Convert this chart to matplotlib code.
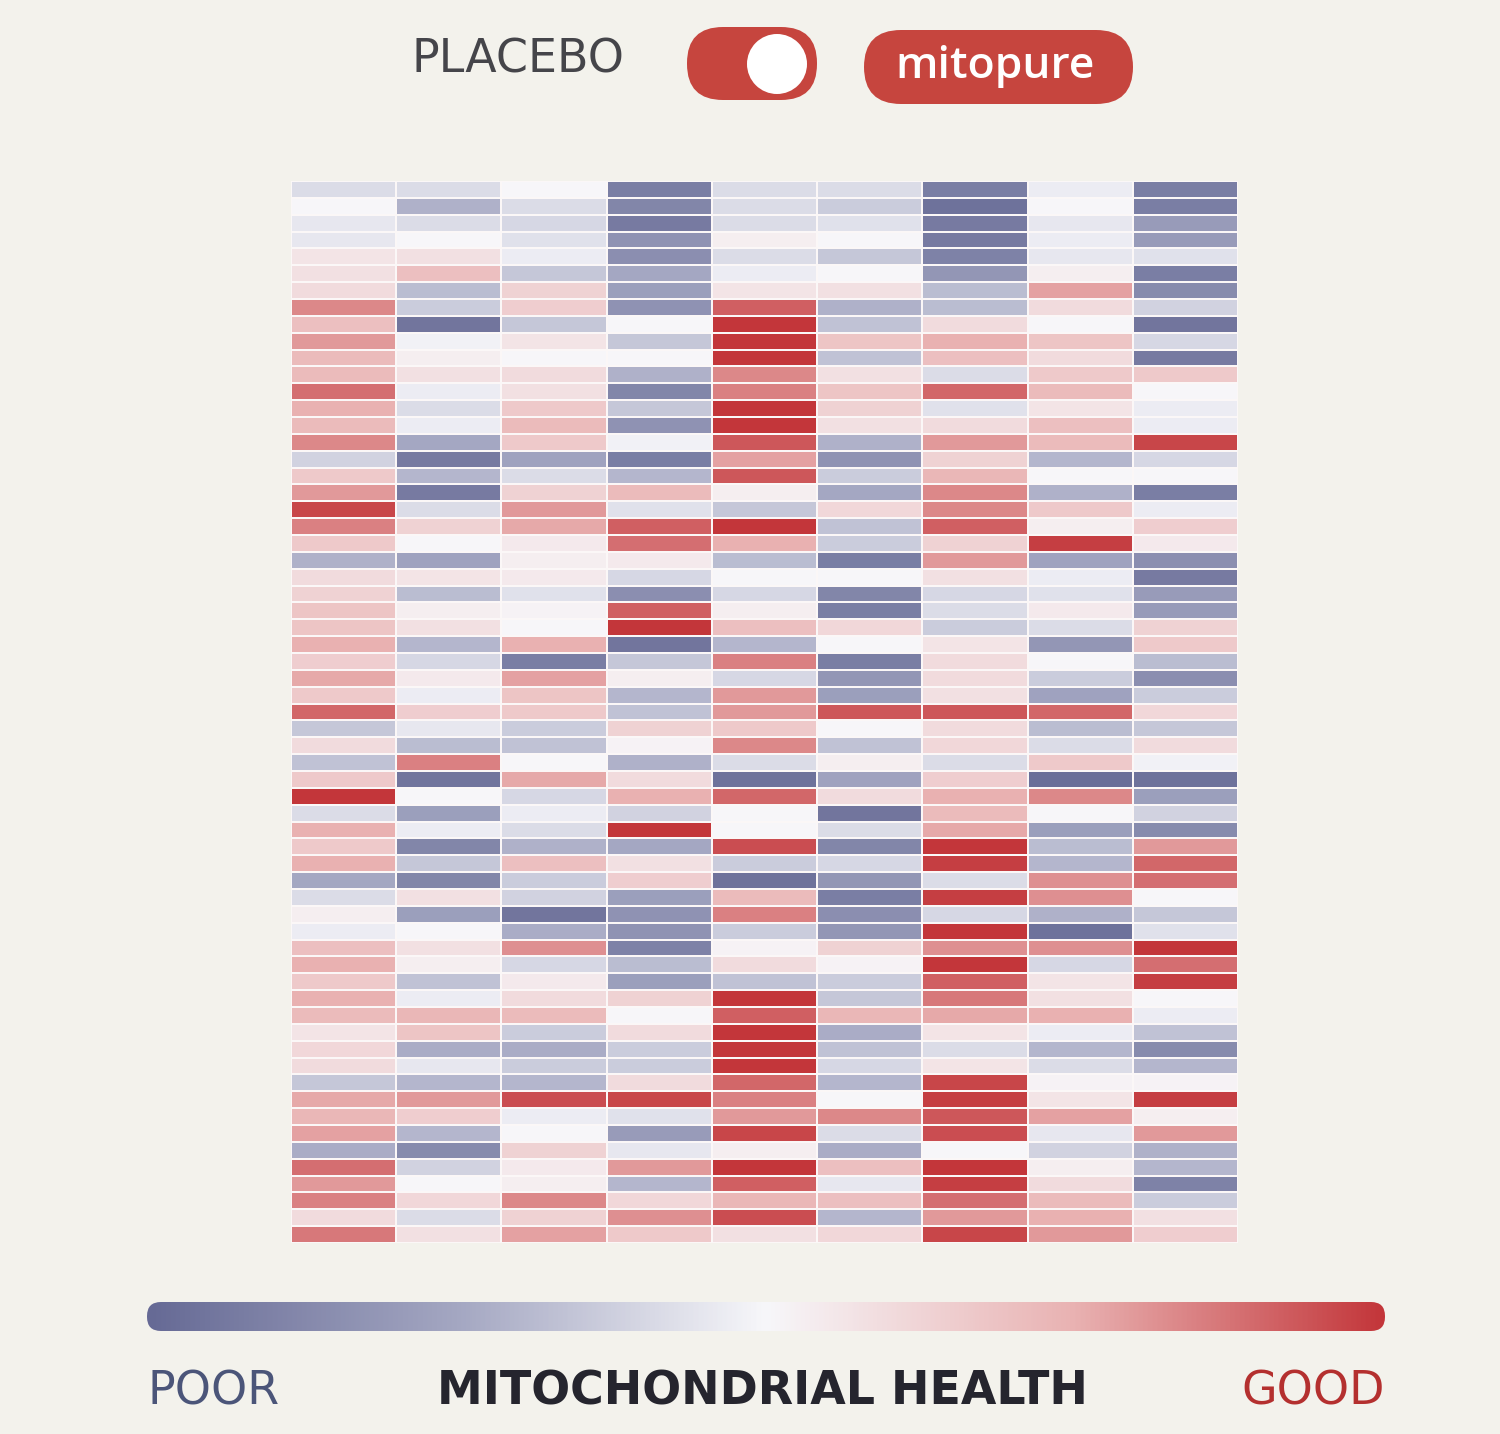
import numpy as np
import matplotlib
matplotlib.use("Agg")
import matplotlib.pyplot as plt
from matplotlib.colors import LinearSegmentedColormap
from matplotlib.patches import FancyBboxPatch, Circle

rows_a = [
[-0.5,-0.5,0,-2.5,-0.5,-0.5,-2.5,-0.2,-2.5],
[0,-1.3,-0.5,-2.3,-0.5,-0.8,-2.8,0,-2.5],
[-0.3,-0.5,-0.6,-2.6,-0.5,-0.4,-2.6,-0.3,-1.8],
[-0.3,0,-0.4,-2,0.2,0,-2.6,-0.2,-1.8],
[0.4,0.5,-0.2,-2.1,-0.5,-0.9,-2.4,-0.3,-0.4],
[0.5,1.2,-0.9,-1.5,-0.2,0,-1.9,0.2,-2.5],
[0.6,-1.1,0.8,-1.7,0.4,0.5,-1.1,1.7,-2.2],
[2,-0.8,0.9,-2,2.5,-1.3,-1.1,0.6,-0.7],
[1.2,-2.7,-0.9,0,3,-1,0.6,0,-2.7],
[1.8,-0.1,0.4,-0.9,3,1.1,1.5,1.1,-0.6],
[1.3,0.2,0,0,3,-1,1.2,0.6,-2.6],
[1.3,0.5,0.6,-1.3,2,0.5,-0.5,1,1],
[2.3,-0.2,0.5,-2.3,2.1,1.1,2.4,1.3,0],
[1.5,-0.5,1,-0.9,3,0.8,-0.4,0.4,-0.2],
[1.3,-0.2,1.3,-2,3,0.5,0.6,1.2,-0.2],
[2,-1.5,1,-0.1,2.6,-1.3,1.8,1.3,2.8],
[-0.7,-2.6,-1.6,-2.5,1.7,-2,0.8,-1.2,-0.6],
[1,-1.2,-0.5,-1.2,2.6,-0.8,1.4,0,0],
[1.8,-2.6,0.8,1.3,0.2,-1.5,2,-1.3,-2.5],
[2.8,-0.5,1.8,-0.4,-0.9,0.7,2,1,-0.2],
[2.1,0.8,1.6,2.5,3,-1,2.5,0.2,0.9],
]
rows_b = [
[1,0,0.3,2.3,1.5,-0.8,0.8,2.9,0.3],
[-1.3,-1.6,0.2,0.3,-1.1,-2.5,1.8,-1.6,-2.1],
[0.6,0.4,0.3,-0.6,0,0,0.5,-0.2,-2.6],
[0.8,-1.1,-0.4,-2.1,-0.6,-2.3,-0.6,-0.4,-1.8],
[1.1,0.2,0.1,2.5,0.2,-2.5,-0.5,0.3,-1.8],
[1.1,0.5,0,3,1.2,0.7,-0.8,-0.5,0.8],
[1.5,-1.2,1.5,-2.7,-1.2,0,0.4,-1.9,1],
[0.9,-0.6,-2.5,-0.9,2.1,-2.5,0.6,0,-1.1],
[1.6,0.3,1.7,0.2,-0.6,-1.9,0.6,-0.8,-2.1],
[1,-0.2,1.1,-1.2,1.8,-1.7,0.5,-1.6,-0.8],
[2.4,0.9,1,-1,1.8,2.6,2.6,2.4,0.7],
[-0.9,-0.3,-0.8,0.8,1,0,0.6,-1.1,-0.9],
[0.6,-1.1,-1,0.1,2,-1,0.7,-0.5,0.6],
[-1,2.1,0,-1.3,-0.5,0.2,-0.5,1,-0.1],
[1,-2.7,1.6,0.6,-2.8,-1.6,0.9,-2.9,-2.8],
[3,0,-0.6,1.5,2.4,0.6,1.5,2,-1.7],
[-0.5,-1.7,-0.2,-0.7,0,-2.7,1.3,0,-0.7],
[1.5,-0.2,-0.5,3,0,-0.5,1.6,-1.7,-2.2],
[1,-2.3,-1.3,-1.5,2.7,-2.3,3,-1.1,1.8],
[1.5,-0.9,1.2,0.5,-0.8,-0.6,2.9,-1.2,2.4],
[-1.5,-2.3,-0.8,0.9,-2.8,-1.9,-0.5,1.9,2.3],
]
rows_c = [
[-0.5,0.5,-0.7,-1.7,1.3,-2.5,2.9,1.9,0],
[0.2,-1.7,-2.7,-2,2.1,-2.1,-0.6,-1.3,-0.9],
[-0.2,0,-1.4,-2,-0.8,-1.9,3,-2.8,-0.4],
[1.2,0.5,1.9,-2.4,0.1,0.8,1.9,1.9,3],
[1.5,0.2,-0.6,-1.1,0.6,0.1,3,-0.6,2.3],
[1,-1,0.3,-1.7,-1,-0.8,2.5,0.4,2.9],
[1.5,-0.2,0.6,0.8,3,-0.9,2.2,0.5,0],
[1.3,1.4,1.3,0,2.5,1.4,1.6,1.5,-0.2],
[0.4,1.1,-0.8,0.6,3,-1.4,0.4,-0.2,-1],
[0.7,-1.4,-1.4,-0.8,3,-1,-0.5,-1.2,-2.2],
[0.6,-0.3,-0.8,-0.8,3,-0.6,0.4,-0.5,-1.2],
[-0.9,-1.2,-1.2,0.6,2.4,-1.2,2.8,0.1,0.1],
[1.6,1.8,2.7,2.8,2.1,0,2.9,0.4,2.9],
[1.4,0.9,-0.2,-0.4,1.8,2,2.6,1.7,0.2],
[1.7,-1.2,0,-1.8,2.8,-0.5,2.7,-0.3,1.8],
[-1.4,-2.2,0.8,-0.3,0.2,-1.4,0,-0.7,-1.3],
[2.3,-0.7,0.3,1.8,3,1.2,3,0.2,-1.2],
[1.8,0,0.2,-1.2,2.5,-0.3,2.9,0.6,-2.4],
[2.1,0.7,2,0.7,1.4,1.2,2.3,1.3,-0.8],
[0.6,-0.5,0.8,1.9,2.7,-1.2,1.8,1.5,0.5],
[2.2,0.5,1.7,1,0.5,0.7,2.8,1.8,0.9],
]
scale_labels = ["POOR", "MITOCHONDRIAL HEALTH", "GOOD"]
toggle_labels = ["PLACEBO", "mitopure"]

data = np.array(rows_a + rows_b + rows_c)
BG = "#f3f2ec"
cmap = LinearSegmentedColormap.from_list("m", ["#666a95", "#a4a7c2", "#f7f7fa", "#e9b2b2", "#c3363a"])

fig = plt.figure(figsize=(15, 14.34), dpi=100, facecolor=BG)

ax = fig.add_axes([291/1500, 1-1243/1434, 947/1500, 1062/1434])
nr, nc = data.shape
mesh = ax.pcolormesh(np.arange(nc+1), np.arange(nr+1), data, cmap=cmap, vmin=-3, vmax=3,
                     edgecolors="#fbf7f7", linewidth=1.1)
ax.set_xlim(0, nc); ax.set_ylim(nr, 0)
ax.axis("off")

# pixel-space overlay axes
tax = fig.add_axes([0, 0, 1, 1]); tax.set_xlim(0, 1500); tax.set_ylim(1434, 0); tax.axis("off")
tax.patch.set_alpha(0)

# gradient bar
grad = np.linspace(-3, 3, 512)[None, :]
im = tax.imshow(grad, cmap=cmap, vmin=-3, vmax=3, aspect="auto",
                extent=(147, 1385, 1331, 1302), zorder=1)
bclip = FancyBboxPatch((147, 1302), 1238, 29, boxstyle="round,pad=0,rounding_size=14",
                       transform=tax.transData, facecolor="none", edgecolor="none")
tax.add_patch(bclip)
im.set_clip_path(bclip)
tax.set_xlim(0, 1500); tax.set_ylim(1434, 0)

fig.text(147/1500, 1-1392/1434, scale_labels[0], color="#4b5579", fontsize=33, va="center", ha="left")
fig.text(762/1500, 1-1392/1434, scale_labels[1], color="#25252e", fontsize=33, fontweight="bold",
         va="center", ha="center")
fig.text(1385/1500, 1-1392/1434, scale_labels[2], color="#b4302f", fontsize=33, va="center", ha="right")

# top controls
fig.text(518/1500, 1-60/1434, toggle_labels[0], color="#45454a", fontsize=33, va="center", ha="center")
tax.add_patch(FancyBboxPatch((687, 27), 130, 73, boxstyle="round,pad=0,rounding_size=36",
                             facecolor="#c6453e", edgecolor="none"))
tax.add_patch(Circle((777, 64), 30, facecolor="white", edgecolor="none"))
tax.add_patch(FancyBboxPatch((864, 30), 269, 74, boxstyle="round,pad=0,rounding_size=37",
                             facecolor="#c6453e", edgecolor="none"))
tax.text(995, 66, toggle_labels[1], color="white", fontsize=32, fontweight="semibold",
         family="Open Sans", va="center", ha="center")

fig.savefig("out.png", dpi=100, facecolor=BG)
